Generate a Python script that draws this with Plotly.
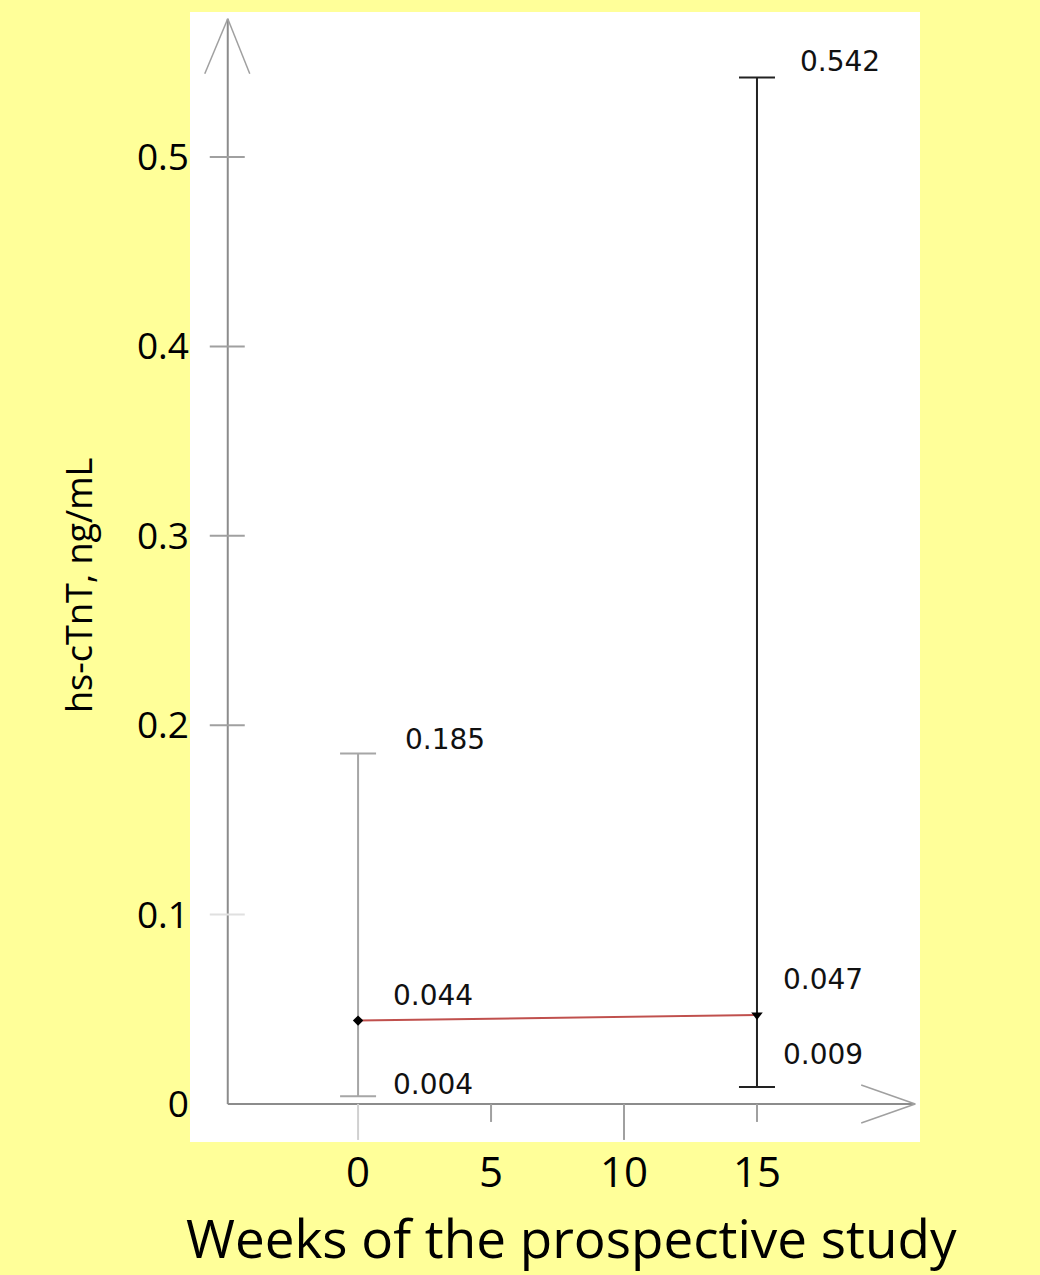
import plotly.graph_objects as go

# ---- data ----
weeks = [0, 15]
mean_vals = [0.044, 0.047]
lower_vals = [0.004, 0.009]
upper_vals = [0.185, 0.542]
x_ticks = [0, 5, 10, 15]
y_ticks = [0, 0.1, 0.2, 0.3, 0.4, 0.5]
y_tick_text = ["0", "0.1", "0.2", "0.3", "0.4", "0.5"]
x_title = "Weeks of the prospective study"
y_title = "hs-cTnT, ng/mL"

# ---- geometry / style ----
W, H = 1040, 1275
X_RANGE = [-6.32, 21.13]
Y_RANGE = [-0.0201, 0.5766]
Y_AXIS_X = -4.9      # where the vertical axis crosses
X_ARROW_END = 20.95
Y_ARROW_END = 0.573
AXIS_COL = "#8c8c8c"
BG = "#FFFF99"

fig = go.Figure()

# red connecting line of the means
fig.add_trace(go.Scatter(x=weeks, y=mean_vals, mode="lines",
                         line=dict(color="#c0504d", width=2), showlegend=False,
                         hoverinfo="skip"))

bar_colors = ["#a6a6a6", "#222222"]
symbols = ["diamond", "triangle-down"]
msizes = [8, 10]
for i in range(len(weeks)):
    fig.add_trace(go.Scatter(
        x=[weeks[i]], y=[mean_vals[i]], mode="markers",
        marker=dict(color="black", size=msizes[i], symbol=symbols[i]),
        error_y=dict(type="data", symmetric=False,
                     array=[upper_vals[i] - mean_vals[i]],
                     arrayminus=[mean_vals[i] - lower_vals[i]],
                     color=bar_colors[i], thickness=2, width=18),
        showlegend=False))

shapes = []
# axes lines
shapes.append(dict(type="line", xref="x", yref="y", x0=Y_AXIS_X, x1=Y_AXIS_X,
                   y0=0, y1=Y_ARROW_END, line=dict(color=AXIS_COL, width=2)))
shapes.append(dict(type="line", xref="x", yref="y", x0=Y_AXIS_X, x1=X_ARROW_END,
                   y0=0, y1=0, line=dict(color=AXIS_COL, width=2)))
# arrow heads (pixel-sized around anchor)
for dx in (-23, 22):
    shapes.append(dict(type="line", xref="x", yref="y", xsizemode="pixel", ysizemode="pixel",
                       xanchor=Y_AXIS_X, yanchor=Y_ARROW_END, x0=0, y0=0, x1=dx, y1=-55,
                       line=dict(color="#a0a0a0", width=1.5)))
for dy in (-19, 19):
    shapes.append(dict(type="line", xref="x", yref="y", xsizemode="pixel", ysizemode="pixel",
                       xanchor=X_ARROW_END, yanchor=0, x0=0, y0=0, x1=-54, y1=dy,
                       line=dict(color="#a0a0a0", width=1.5)))
# y ticks
for t in y_ticks[1:]:
    col = "#e0e0e0" if abs(t - 0.1) < 1e-9 else "#a0a0a0"
    shapes.append(dict(type="line", xref="x", yref="y", xsizemode="pixel",
                       xanchor=Y_AXIS_X, x0=-18, x1=17, y0=t, y1=t,
                       line=dict(color=col, width=2)))
# x ticks
for t in x_ticks:
    length = 36 if t in (0, 10) else 18
    col = "#d0d0d0" if t == 0 else "#a0a0a0"
    shapes.append(dict(type="line", xref="x", yref="y", ysizemode="pixel",
                       yanchor=0, y0=0, y1=-length, x0=t, x1=t,
                       line=dict(color=col, width=2)))

annotations = []
# value labels
lab_font = dict(family="DejaVu Sans", size=28, color="#111111")
label_specs = []
for i in range(len(weeks)):
    label_specs.append((weeks[i], upper_vals[i], [45, 41][i], [14, 16][i]))
    label_specs.append((weeks[i], mean_vals[i], [33, 24][i], [25, 35][i]))
    label_specs.append((weeks[i], lower_vals[i], [33, 24][i], [12, 32][i]))
for (xv, yv, xs, ys) in label_specs:
    annotations.append(dict(x=xv, y=yv, xref="x", yref="y", text=f"{yv:.3f}",
                            showarrow=False, xanchor="left", yanchor="middle",
                            xshift=xs, yshift=ys, font=lab_font))
# axis titles
annotations.append(dict(x=571, y=1237, xref="paper", yref="paper", text=x_title,
                        showarrow=False, font=dict(family="Open Sans", size=53, color="black"),
                        xanchor="center", yanchor="middle"))
annotations.append(dict(x=78, y=586, xref="paper", yref="paper", text=y_title,
                        textangle=-90, showarrow=False,
                        font=dict(family="Open Sans", size=36, color="black"),
                        xanchor="center", yanchor="middle"))

# convert pixel positions of titles to paper coordinates
L, R, T, B = 190, 120, 12, 133
pw, ph = W - L - R, H - T - B
for a in annotations[-2:]:
    a["x"] = (a["x"] - L) / pw
    a["y"] = 1 - (a["y"] - T) / ph

fig.update_layout(
    width=W, height=H,
    margin=dict(l=L, r=R, t=T, b=B),
    paper_bgcolor=BG, plot_bgcolor="white",
    xaxis=dict(range=X_RANGE, showgrid=False, zeroline=False, showline=False,
               tickvals=x_ticks, ticktext=[str(v) for v in x_ticks], ticks="",
               tickfont=dict(family="Open Sans", size=42, color="black"), ticklabelstandoff=2),
    yaxis=dict(range=Y_RANGE, showgrid=False, zeroline=False, showline=False,
               tickvals=y_ticks, ticktext=y_tick_text, ticks="",
               tickfont=dict(family="Open Sans", size=37, color="black"), ticklabelstandoff=0),
    shapes=shapes, annotations=annotations,
)

fig.write_html("out.html", config={"displayModeBar": False},
               post_script="document.body.style.margin='0';document.body.style.overflow='hidden';")
